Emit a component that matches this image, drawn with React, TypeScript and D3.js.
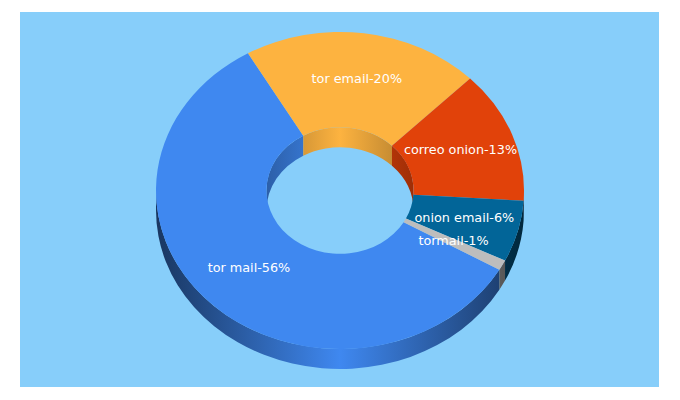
import React from "react";
import * as d3 from "d3";

const categories = ["tor mail", "tor email", "correo onion", "onion email", "tormail"];
const values = [56, 20, 13, 6, 1];
const colors = ["#3f88f0", "#fdb340", "#e1420a", "#026598", "#bdbdbd"];

const WIDTH = 640, HEIGHT = 376;
const CX = 340, CY = 190.5, RX = 184, RI = 73.5, KY = 158.5 / 184, DEPTH = 20;
const FONT = "'DejaVu Sans', sans-serif";
const TAU = Math.PI * 2;
const START = (120 / 360) * TAU;

const pie = d3.pie<number>().sort(null).startAngle(START).endAngle(START + TAU);
const arcs = pie(values);
const face = d3.arc<d3.PieArcDatum<number>>().innerRadius(RI).outerRadius(RX);

// d3 arc angle a (from 12 o'clock, clockwise) -> canvas angle
const canvas = (a: number) => a - Math.PI / 2;

// Wall band: the rim of radius r between two angles, pushed down by the depth
function wall(r: number, a0: number, a1: number) {
  const d = DEPTH / KY;
  const p = d3.path();
  p.arc(0, 0, r, canvas(a0), canvas(a1), false);
  p.arc(0, d, r, canvas(a1), canvas(a0), true);
  p.closePath();
  return p.toString();
}

// Visible parts of [a0,a1] overlapping a repeating window [w0,w1]
function overlaps(a0: number, a1: number, w0: number, w1: number) {
  const out: [number, number][] = [];
  for (let k = -1; k <= 2; k++) {
    const s = Math.max(a0, w0 + k * TAU), e = Math.min(a1, w1 + k * TAU);
    if (e > s) out.push([s, e]);
  }
  return out;
}

const shade = (c: string, f: number) => {
  const q = d3.rgb(c);
  return d3.rgb(q.r * f, q.g * f, q.b * f).formatHex();
};

function Grad({ id, c, r, edge }: { id: string; c: string; r: number; edge: number }) {
  return (
    <linearGradient id={id} gradientUnits="userSpaceOnUse" x1={-r} x2={r} y1={0} y2={0}>
      <stop offset="0" stopColor={shade(c, edge)} />
      <stop offset="0.5" stopColor={c} />
      <stop offset="1" stopColor={shade(c, edge)} />
    </linearGradient>
  );
}

export default function App() {
  return (
    <svg
      width={680}
      height={400}
      style={{ position: "absolute", left: 0, top: 0 }}
    >
      <defs>
        {colors.map((c, i) => (
          <React.Fragment key={i}>
            <Grad id={`o${i}`} c={c} r={RX} edge={0.4} />
            <Grad id={`n${i}`} c={c} r={RI} edge={0.7} />
          </React.Fragment>
        ))}
      </defs>
      <rect x={20} y={12} width={WIDTH - 1} height={HEIGHT - 1} fill="#87cefa" />
      <g transform={`translate(${CX},${CY}) scale(1,${KY})`}>
        {arcs.map((d, i) => (
          <g key={i}>
            {overlaps(d.startAngle, d.endAngle, TAU / 4, (3 * TAU) / 4).map(([s, e], j) => (
              <path key={j} d={wall(RX, s, e)} fill={`url(#o${i})`} />
            ))}
            {overlaps(d.startAngle, d.endAngle, (3 * TAU) / 4, (5 * TAU) / 4).map(([s, e], j) => (
              <path key={j} d={wall(RI, s, e)} fill={`url(#n${i})`} />
            ))}
          </g>
        ))}
        {arcs.map((d, i) => (
          <path key={i} d={face(d) ?? ""} fill={colors[i]} />
        ))}
      </g>
      {arcs.map((d, i) => {
        const [x, y] = face.centroid(d);
        return (
          <text
            key={i}
            x={CX + x}
            y={CY + y * KY + 2.7}
            textAnchor="middle"
            fontFamily={FONT}
            fontSize={12.8}
            fill="#ffffff"
          >
            {`${categories[i]}-${d.value}%`}
          </text>
        );
      })}
    </svg>
  );
}
